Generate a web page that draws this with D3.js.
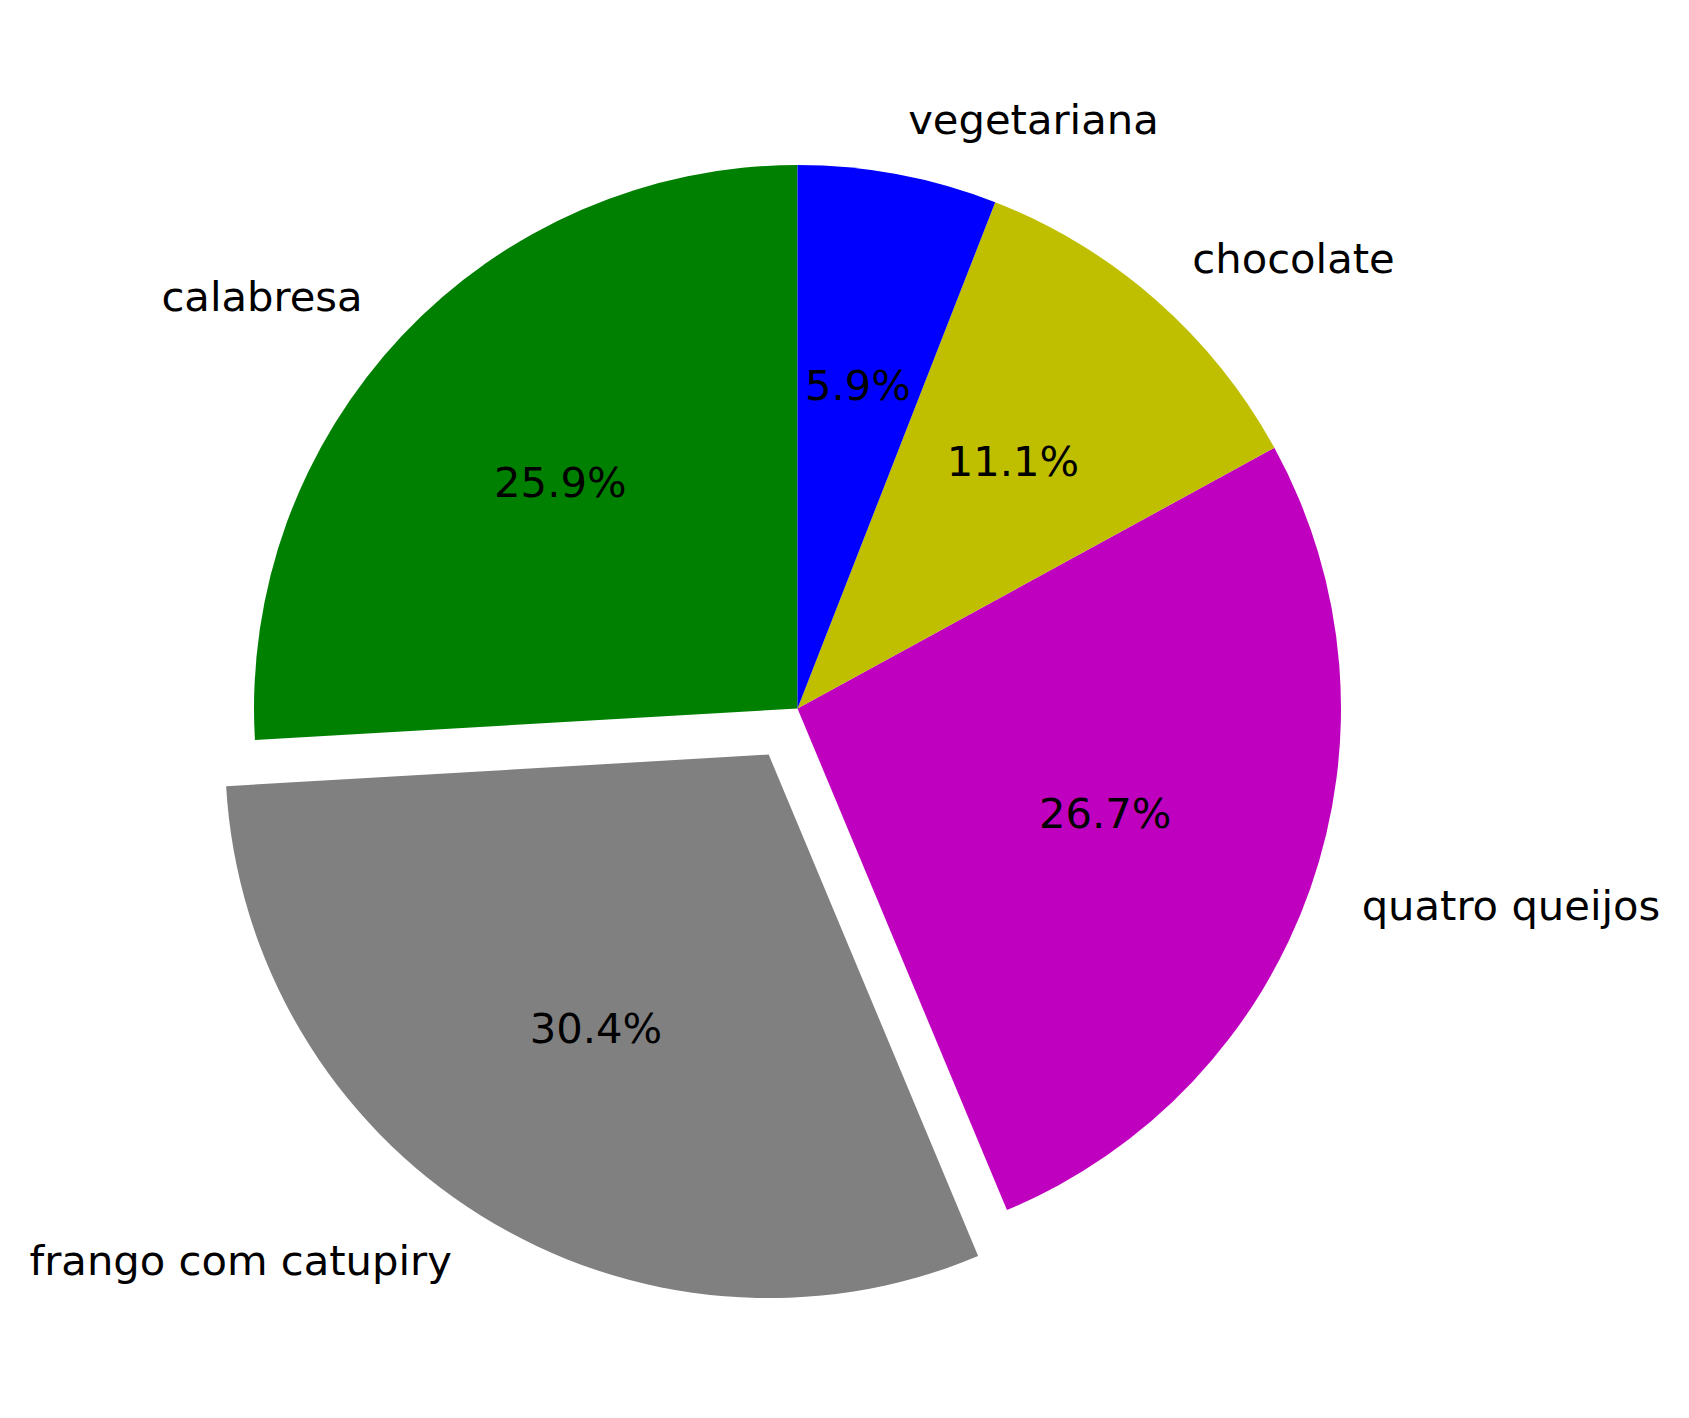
<!DOCTYPE html>
<html>
<head>
<meta charset="utf-8">
<script src="https://cdn.jsdelivr.net/npm/d3@7"></script>
<style>
  body { margin: 0; background: #fff; }
  text { font-family: "DejaVu Sans", sans-serif; }
</style>
</head>
<body>
<div class="container"></div>
<script>
// pizza flavours, counterclockwise from 12 o'clock
let labels = ['calabresa', 'frango com catupiry', 'quatro queijos', 'chocolate', 'vegetariana'],
    values = [35, 41, 36, 15, 8],
    colors = ['#008000', '#808080', '#bf00bf', '#bfbf00', '#0000ff'],
    explode = [0, 0.1, 0, 0, 0];

let width = 1689,
    height = 1418,
    cx = 797.5,
    cy = 708.5,
    radius = 543.5,
    fontSize = '41.7px';

let data = labels.map((l, i) => ({ label: l, value: values[i], color: colors[i], explode: explode[i] }));
let total = d3.sum(values);

let svg = d3.select('.container')
            .append('svg')
            .attr('width', width)
            .attr('height', height);

svg.append('rect')
   .attr('width', width)
   .attr('height', height)
   .attr('fill', '#fff');

// d3 angles run clockwise from top, so go negative for counterclockwise
let pie = d3.pie()
            .sort(null)
            .value(d => d.value)
            .startAngle(0)
            .endAngle(-2 * Math.PI);

let arc = d3.arc().innerRadius(0).outerRadius(radius);

let arcs = pie(data);

let mid = d => (d.startAngle + d.endAngle) / 2;
let offset = d => {
  let a = mid(d), o = d.data.explode * radius;
  return [o * Math.sin(a), -o * Math.cos(a)];
};
let at = (d, k) => {
  let a = mid(d), o = offset(d);
  return [o[0] + k * radius * Math.sin(a), o[1] - k * radius * Math.cos(a)];
};

let g = svg.append('g')
           .attr('transform', `translate(${cx}, ${cy})`);

g.selectAll('path')
 .data(arcs)
 .enter()
 .append('path')
 .attr('d', arc)
 .attr('fill', d => d.data.color)
 .attr('transform', d => `translate(${offset(d)[0]}, ${offset(d)[1]})`);

g.selectAll('text.label')
 .data(arcs)
 .enter()
 .append('text')
 .classed('label', true)
 .attr('x', d => at(d, 1.1)[0])
 .attr('y', d => at(d, 1.1)[1])
 .attr('dy', '-0.03em')
 .attr('dominant-baseline', 'central')
 .attr('text-anchor', d => at(d, 1.1)[0] > 0 ? 'start' : 'end')
 .style('font-size', fontSize)
 .text(d => d.data.label);

g.selectAll('text.pct')
 .data(arcs)
 .enter()
 .append('text')
 .classed('pct', true)
 .attr('x', d => at(d, 0.6)[0])
 .attr('y', d => at(d, 0.6)[1])
 .attr('dy', '-0.06em')
 .attr('dominant-baseline', 'central')
 .attr('text-anchor', 'middle')
 .style('font-size', fontSize)
 .text(d => d3.format('.1f')(d.data.value / total * 100) + '%');
</script>
</body>
</html>
